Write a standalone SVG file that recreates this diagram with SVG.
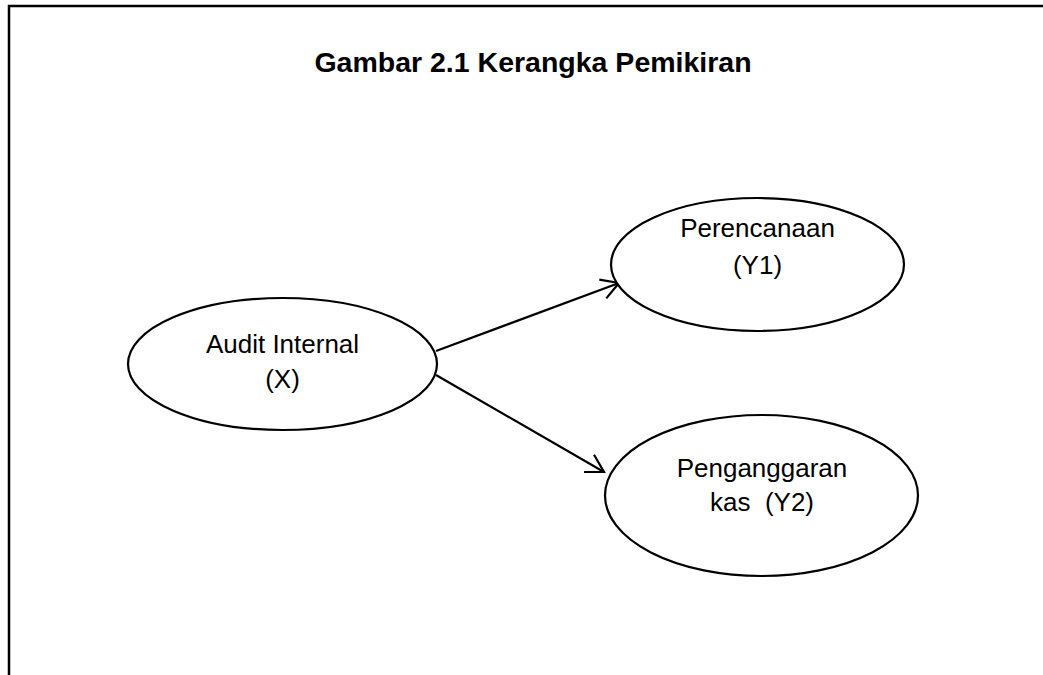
<svg xmlns="http://www.w3.org/2000/svg" width="1043" height="675" viewBox="0 0 1043 675">
  <style>
    .node ellipse { fill: #ffffff; stroke: #000000; stroke-width: 2.2; }
    .label { font-family: "Liberation Sans", Arial, sans-serif; font-size: 26px; fill: #000000; text-anchor: middle; }
    .title { font-family: "Liberation Sans", Arial, sans-serif; font-size: 28.5px; font-weight: bold; fill: #000000; text-anchor: middle; }
    .edge { stroke: #000000; stroke-width: 2.2; fill: none; }
  </style>
  <defs>
    <marker id="arrow" viewBox="-20 -12 22 24" refX="0" refY="0" markerWidth="22" markerHeight="24" markerUnits="userSpaceOnUse" orient="auto">
      <path d="M-17.3,-10 L0,0 L-17.3,10" fill="none" stroke="#000000" stroke-width="2.2" stroke-linejoin="miter"/>
    </marker>
  </defs>
  <rect x="0" y="0" width="1043" height="675" fill="#ffffff"/>
  <g id="frame">
    <path d="M9,675 V6 H1043" fill="none" stroke="#000000" stroke-width="2.5"/>
  </g>
  <g id="title">
    <text class="title" x="533" y="72">Gambar 2.1 Kerangka Pemikiran</text>
  </g>
  <g id="connectors">
    <line class="edge" x1="436" y1="351" x2="619" y2="283" marker-end="url(#arrow)"/>
    <line class="edge" x1="436" y1="375" x2="604" y2="472" marker-end="url(#arrow)"/>
  </g>
  <g id="node-audit" class="node">
    <ellipse cx="282.5" cy="364" rx="154.5" ry="66"/>
    <text class="label" x="282.5" y="353">Audit Internal</text>
    <text class="label" x="282.5" y="388">(X)</text>
  </g>
  <g id="node-perencanaan" class="node">
    <ellipse cx="757.5" cy="264.5" rx="146.5" ry="66.5"/>
    <text class="label" x="757.5" y="237">Perencanaan</text>
    <text class="label" x="757.5" y="274">(Y1)</text>
  </g>
  <g id="node-penganggaran" class="node">
    <ellipse cx="761.5" cy="495.5" rx="156.5" ry="80.5"/>
    <text class="label" x="762" y="477">Penganggaran</text>
    <text class="label" x="762" y="511" xml:space="preserve">kas  (Y2)</text>
  </g>
</svg>
